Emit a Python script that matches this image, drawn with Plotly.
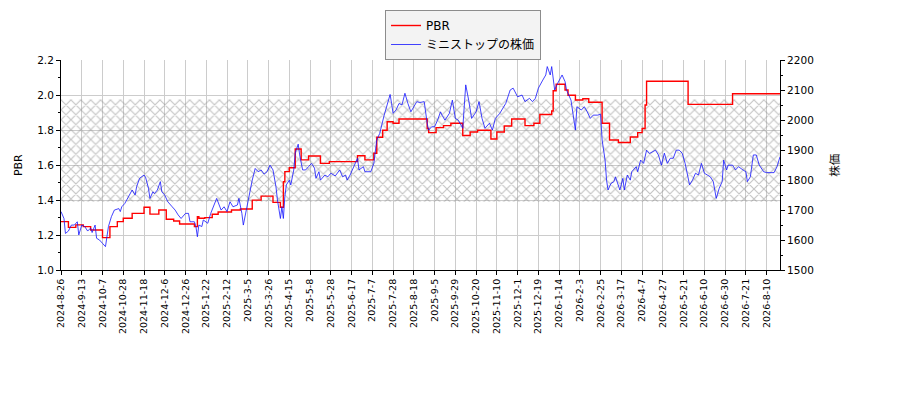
import plotly.graph_objects as go

# x axis: trading-day index, one tick label every 14 trading days
tick_labels = [
    "2024-8-26", "2024-9-13", "2024-10-7", "2024-10-28", "2024-11-18", "2024-12-6",
    "2024-12-26", "2025-1-22", "2025-2-12", "2025-3-5", "2025-3-26", "2025-4-15",
    "2025-5-8", "2025-5-28", "2025-6-17", "2025-7-7", "2025-7-28", "2025-8-18",
    "2025-9-5", "2025-9-29", "2025-10-20", "2025-11-10", "2025-12-1", "2025-12-19",
    "2026-1-14", "2026-2-3", "2026-2-25", "2026-3-17", "2026-4-7", "2026-4-27",
    "2026-5-21", "2026-6-10", "2026-6-30", "2026-7-21", "2026-8-10",
]
tick_step = 14

# stock price (right axis)
price_day = [
    0, 2, 3, 5, 7, 9, 11, 12, 14, 16, 18, 20, 21, 23, 24, 26, 28, 30, 32, 34,
    36, 39, 40, 41, 43, 45, 48, 50, 51, 53, 56, 57, 59, 60, 62, 63, 65, 67, 68, 70,
    72, 75, 77, 79, 81, 84, 86, 87, 90, 91, 92, 93, 95, 96, 99, 101, 103, 105, 108, 110,
    112, 114, 116, 119, 120, 122, 123, 125, 127, 129, 131, 133, 135, 137, 139, 141, 143, 145, 146, 148,
    149, 150, 151, 152, 154, 155, 157, 158, 160, 161, 163, 165, 167, 169, 171, 172, 174, 175, 178, 180,
    182, 185, 188, 190, 192, 193, 195, 198, 200, 201, 204, 205, 209, 211, 213, 215, 217, 218, 220, 222,
    223, 224, 226, 228, 230, 232, 234, 236, 238, 240, 242, 245, 247, 248, 250, 252, 254, 256, 257, 259,
    262, 264, 266, 268, 271, 272, 273, 275, 277, 280, 282, 284, 286, 289, 291, 293, 296, 300, 303, 305,
    308, 311, 313, 316, 318, 320, 322, 325, 327, 328, 330, 331, 333, 335, 338, 340, 341, 344, 345, 347,
    348, 351, 353, 355, 357, 359, 362, 364, 365, 367, 368, 369, 371, 373, 374, 376, 377, 379, 380, 382,
    384, 385, 388, 389, 391, 393, 395, 397, 399, 401, 403, 405, 407, 409, 411, 413, 415, 417, 419, 421,
    424, 426, 428, 430, 432, 434, 436, 438, 440, 442, 444, 446, 447, 449, 450, 453, 455, 457, 460, 462,
    463, 465, 467, 469, 471, 474, 476, 481, 483, 485,
]
price_val = [
    1695, 1672, 1622, 1630, 1650, 1650, 1661, 1617, 1650, 1645, 1630, 1640, 1625, 1650, 1606, 1600, 1589, 1578, 1645, 1678,
    1700, 1705, 1695, 1711, 1722, 1739, 1767, 1750, 1778, 1806, 1817, 1810, 1773, 1739, 1761, 1755, 1767, 1795, 1761, 1750,
    1728, 1711, 1700, 1684, 1672, 1689, 1689, 1661, 1661, 1645, 1611, 1650, 1645, 1667, 1656, 1689, 1711, 1739, 1700, 1711,
    1695, 1728, 1711, 1717, 1739, 1689, 1650, 1700, 1756, 1800, 1839, 1828, 1834, 1820, 1828, 1850, 1834, 1778, 1734, 1672,
    1711, 1672, 1745, 1784, 1800, 1784, 1834, 1890, 1920, 1884, 1834, 1834, 1845, 1856, 1840, 1806, 1828, 1800, 1817, 1811,
    1823, 1814, 1834, 1811, 1817, 1800, 1817, 1850, 1873, 1834, 1845, 1828, 1828, 1856, 1934, 1956, 2000, 2017, 2051, 2086,
    2056, 2023, 2034, 2056, 2051, 2090, 2056, 2028, 2045, 2062, 2059, 2062, 1990, 1967, 1978, 1978, 2000, 2028, 2017, 2000,
    2023, 2067, 2006, 2000, 1973, 2034, 2118, 2067, 2006, 2028, 2062, 2006, 1973, 1990, 1967, 2006, 2023, 2056, 2101, 2107,
    2078, 2084, 2062, 2073, 2062, 2073, 2107, 2134, 2151, 2179, 2151, 2179, 2101, 2123, 2151, 2129, 2101, 2067, 2034, 1967,
    2045, 2034, 2045, 2028, 2006, 2017, 2017, 2020, 1934, 1867, 1800, 1767, 1789, 1795, 1811, 1778, 1767, 1806, 1767, 1817,
    1800, 1828, 1845, 1828, 1867, 1856, 1900, 1889, 1895, 1900, 1884, 1850, 1890, 1856, 1873, 1873, 1900, 1900, 1890, 1856,
    1784, 1800, 1823, 1817, 1856, 1823, 1817, 1811, 1795, 1739, 1773, 1795, 1867, 1834, 1850, 1850, 1834, 1845, 1834, 1828,
    1795, 1811, 1884, 1884, 1850, 1828, 1825, 1825, 1845, 1878,
]

# PBR (left axis), value holds from each change day until the next
pbr_day = [
    0, 5, 10, 15, 20, 28, 33, 38, 42, 48, 56, 60, 66, 71, 76, 80, 90, 92, 93, 97,
    102, 106, 115, 121, 129, 135, 143, 148, 150, 151, 154, 158, 162, 167, 175, 181, 200, 205, 211, 213,
    217, 220, 224, 228, 247, 248, 253, 258, 263, 271, 276, 281, 290, 294, 299, 304, 313, 319, 323, 331,
    332, 334, 340, 342, 347, 352, 356, 365, 370, 376, 384, 389, 392, 394, 395, 423, 453, 485,
]
pbr_val = [
    1.277, 1.244, 1.258, 1.248, 1.229, 1.185, 1.248, 1.277, 1.296, 1.324, 1.359, 1.32, 1.343, 1.29, 1.28, 1.263, 1.248, 1.305, 1.296, 1.30,
    1.319, 1.332, 1.343, 1.349, 1.40, 1.423, 1.387, 1.359, 1.505, 1.563, 1.585, 1.692, 1.63, 1.652, 1.61, 1.62, 1.654, 1.63, 1.668, 1.76,
    1.80, 1.848, 1.84, 1.864, 1.81, 1.786, 1.815, 1.826, 1.84, 1.77, 1.79, 1.80, 1.75, 1.79, 1.824, 1.864, 1.826, 1.84, 1.89, 1.91,
    2.026, 2.063, 2.03, 2.0, 1.973, 1.98, 1.96, 1.84, 1.744, 1.73, 1.761, 1.786, 1.81, 1.944, 2.08, 1.948, 2.009, 2.009,
]

# hatched PBR band
band_low = 1.39
band_high = 1.975

FONT = "DejaVu Sans, Noto Sans CJK JP"
GRID = "#cccccc"

# the page body has an 8px margin, so the figure is drawn 8px smaller and
# every position is measured from that offset
OFF = 8
W, H = 900 - OFF, 400 - OFF
M_L, M_R, M_T, M_B = 60.7 - OFF, W - (780.3 - OFF), 0, H - (270 - OFF)
paper_h = H - M_T - M_B
plot_top_px = 60.3 - OFF
y_dom_top = (paper_h - plot_top_px) / paper_h
legend_y = (paper_h - (10 - OFF)) / paper_h
legend_x = (385 - OFF - M_L) / (W - M_L - M_R)

fig = go.Figure()

x0, x1 = price_day[0], price_day[-1]
fig.add_trace(go.Scatter(
    x=[x0, x1, x1, x0, x0],
    y=[band_low, band_low, band_high, band_high, band_low],
    mode="lines", fill="toself",
    fillcolor="rgba(0,0,0,0)",
    fillpattern=dict(shape="x", fgcolor="#888888", size=7, solidity=0.3),
    line=dict(width=0),
    showlegend=False, hoverinfo="skip",
))

fig.add_trace(go.Scatter(
    x=pbr_day, y=pbr_val, mode="lines", name="PBR",
    line=dict(color="red", width=1.4, shape="hv"),
))

fig.add_trace(go.Scatter(
    x=price_day, y=price_val, mode="lines", name="ミニストップの株価",
    line=dict(color="rgba(20,20,255,0.8)", width=1),
    yaxis="y2",
))

fig.update_layout(
    width=W, height=H,
    margin=dict(l=M_L, r=M_R, t=M_T, b=M_B),
    paper_bgcolor="white", plot_bgcolor="white",
    font=dict(family=FONT, size=10.5, color="black"),
    showlegend=True,
    legend=dict(
        x=legend_x, y=legend_y, xanchor="left", yanchor="top",
        bgcolor="#f3f3f3", bordercolor="#8c8c8c", borderwidth=1,
        font=dict(family=FONT, size=12),
        tracegroupgap=0,
    ),
    xaxis=dict(
        range=[x0, x1],
        automargin=False,
        tickmode="array",
        tickvals=[i * tick_step for i in range(len(tick_labels))],
        ticktext=tick_labels,
        tickangle=-90,
        tickfont=dict(size=9.5),
        ticks="outside", ticklen=4, tickcolor="black",
        showgrid=True, gridcolor=GRID, gridwidth=1,
        showline=True, linecolor="black", linewidth=1,
        zeroline=False,
    ),
    yaxis=dict(
        domain=[0, y_dom_top],
        range=[1.0, 2.2],
        automargin=False,
        dtick=0.2, tickformat=".1f",
        ticks="outside", ticklen=4, tickcolor="black",
        minor=dict(dtick=0.1, ticks="outside", ticklen=2, tickcolor="black", showgrid=False),
        showgrid=True, gridcolor=GRID, gridwidth=1,
        showline=True, linecolor="black", linewidth=1,
        zeroline=False,
        title=dict(text="PBR", standoff=12, font=dict(size=11)),
    ),
    yaxis2=dict(
        range=[1500, 2200],
        automargin=False,
        dtick=100,
        overlaying="y", side="right",
        ticks="outside", ticklen=4, tickcolor="black",
        minor=dict(dtick=50, ticks="outside", ticklen=2, tickcolor="black", showgrid=False),
        showgrid=False,
        showline=True, linecolor="black", linewidth=1,
        zeroline=False,
        title=dict(text="株価", standoff=18, font=dict(size=11.5)),
    ),
)

fig.write_html("out.html")
